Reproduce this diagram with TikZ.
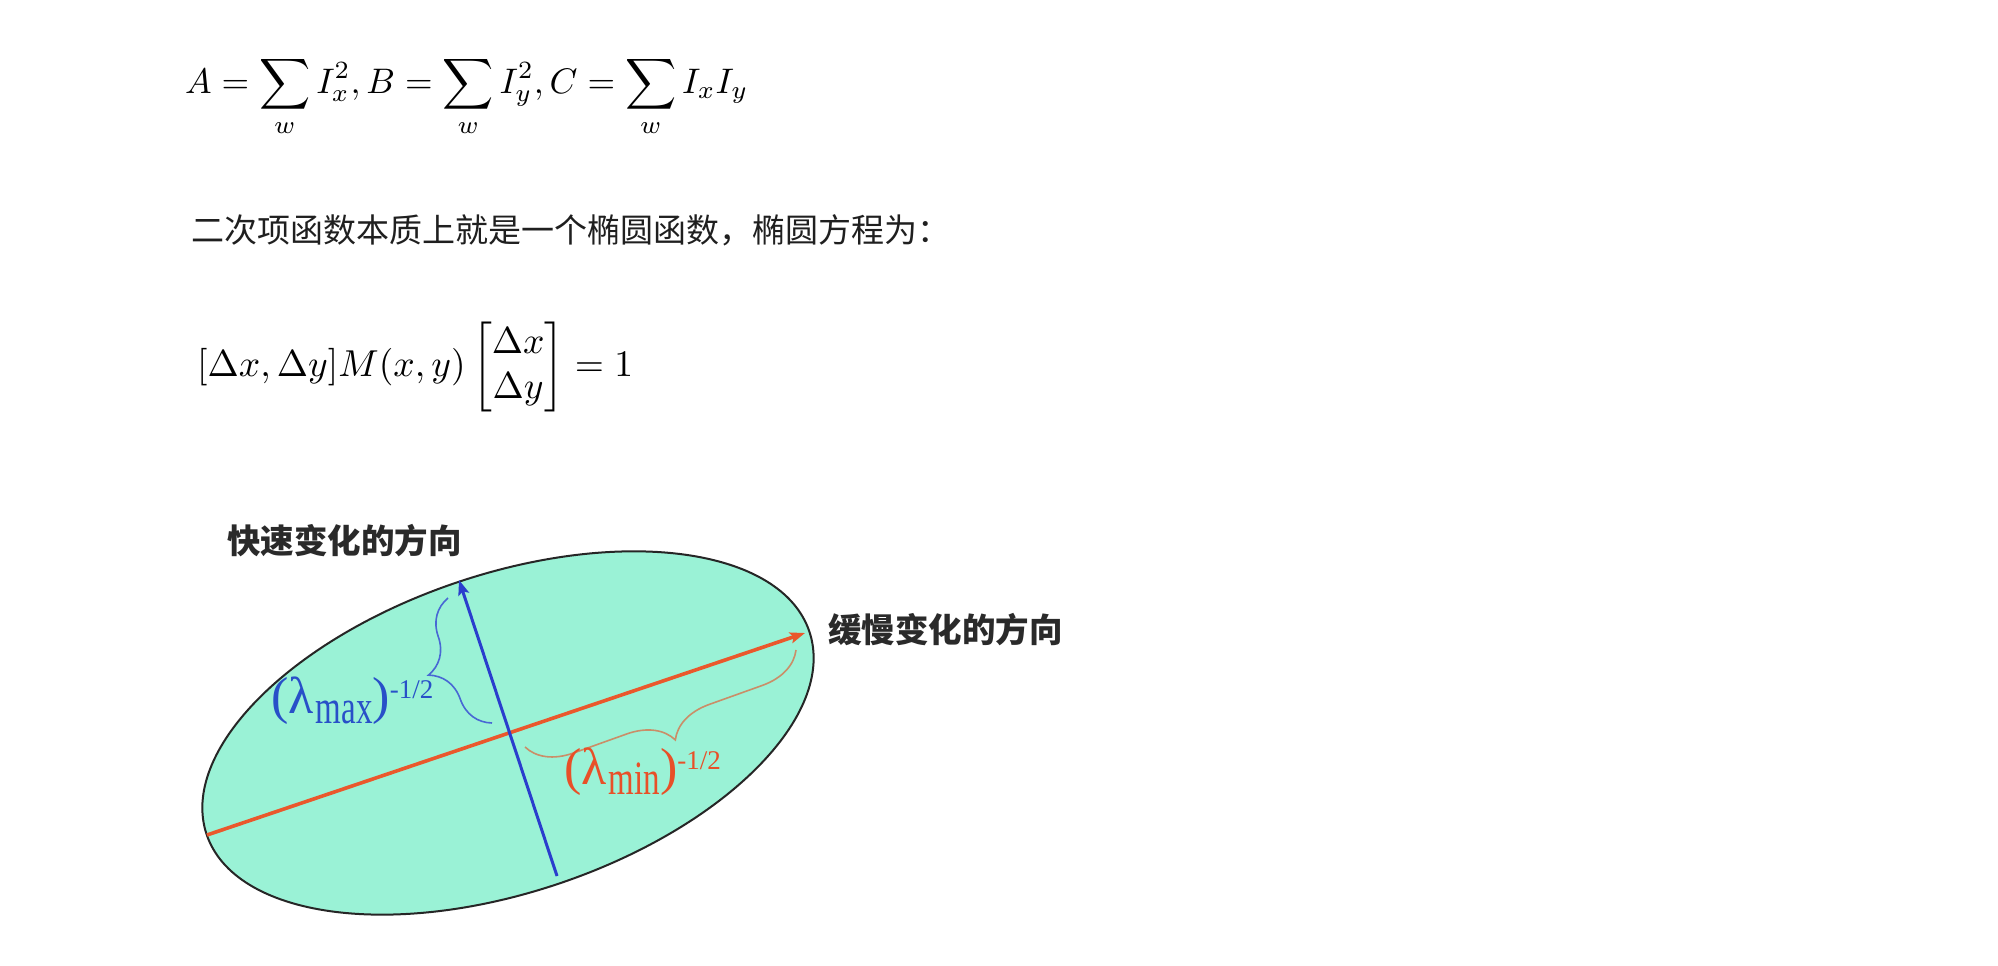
\documentclass[tikz,border=0pt]{standalone}
\usepackage{fontspec}
\usepackage{amsmath}
\usepackage{graphicx}
\newfontfamily\cjk{Noto Sans CJK SC}
\newfontfamily\lamfont{Liberation Serif}
\usetikzlibrary{arrows.meta, decorations.pathreplacing}

\definecolor{mint}{RGB}{154,242,214}
\definecolor{axisred}{RGB}{234,88,44}
\definecolor{axisblue}{RGB}{42,62,205}
\definecolor{braceblue}{RGB}{72,104,212}
\definecolor{bracetan}{RGB}{202,142,104}
\definecolor{labelblue}{RGB}{40,80,200}
\definecolor{labelred}{RGB}{232,80,40}
\definecolor{labelgray}{RGB}{42,42,42}

\newcommand{\eigval}[1]{(λ\kern2pt\raisebox{-10pt}{\scalebox{1}[1.45]{\fontsize{33}{33}\selectfont #1}})\raisebox{15pt}{\fontsize{27}{27}\selectfont -1/2}}

\begin{document}
\begin{tikzpicture}[x=1pt, y=-1pt,
    formula/.style={anchor=base west, inner sep=0pt},
    cjkline/.style={anchor=west, inner sep=0pt, font=\cjk\fontsize{33}{40}\selectfont, text=black!88},
    dirlabel/.style={anchor=west, inner sep=0pt, font=\cjk\bfseries\fontsize{33.5}{40}\selectfont, text=labelgray},
    eiglabel/.style={anchor=base west, inner sep=0pt, font=\lamfont\fontsize{52}{56}\selectfont},
    ellipsefill/.style={fill=mint, draw=black!85, line width=2pt},
    axisarrow/.style={-{Stealth[length=15pt, width=11pt, inset=3pt]}},
    bracearc/.style={decorate, decoration={brace, amplitude=44pt}, line width=1.6pt}
]
    \fill[white] (0,0) rectangle (1998,966);
    \useasboundingbox (0,0) rectangle (1998,966);

    \node[formula] (sums) at (185,93) {\scalebox{3.55}{$\displaystyle A=\sum_w I_x^2, B=\sum_w I_y^2, C=\sum_w I_x I_y$}};
    \node[cjkline] (intro) at (191,230) {二次项函数本质上就是一个椭圆函数，椭圆方程为：};
    \node[formula, anchor=west] (ellipseq) at (197,367) {\scalebox{3.75}{$[\Delta x, \Delta y]M(x,y)\begin{bmatrix}\Delta x\\ \Delta y\end{bmatrix}=1$}};

    \coordinate (ctr) at (508,733);
    \coordinate (majL) at (207,835);
    \coordinate (majR) at (805,633);
    \coordinate (minB) at (557,876);
    \coordinate (minT) at (459,580);

    \draw[ellipsefill, rotate around={18.6:(ctr)}] (ctr) ellipse [x radius=318, y radius=159];

    \draw[axisarrow, axisred, line width=3.6pt] (majL) -- (majR);
    \draw[axisarrow, axisblue, line width=3pt] (minB) -- (minT);

    \coordinate (bbA) at (492,723);
    \coordinate (bbB) at (448,598);
    \coordinate (rbA) at (796,650);
    \coordinate (rbB) at (525,747);
    \draw[bracearc, braceblue] (bbA) -- (bbB);
    \draw[bracearc, bracetan] (rbA) -- (rbB);

    \node[eiglabel, text=labelblue] (lmax) at (271,713) {\eigval{max}};
    \node[eiglabel, text=labelred] (lmin) at (564,784) {\eigval{min}};

    \node[dirlabel] (fast) at (227,541) {快速变化的方向};
    \node[dirlabel] (slow) at (828,630) {缓慢变化的方向};
\end{tikzpicture}
\end{document}
